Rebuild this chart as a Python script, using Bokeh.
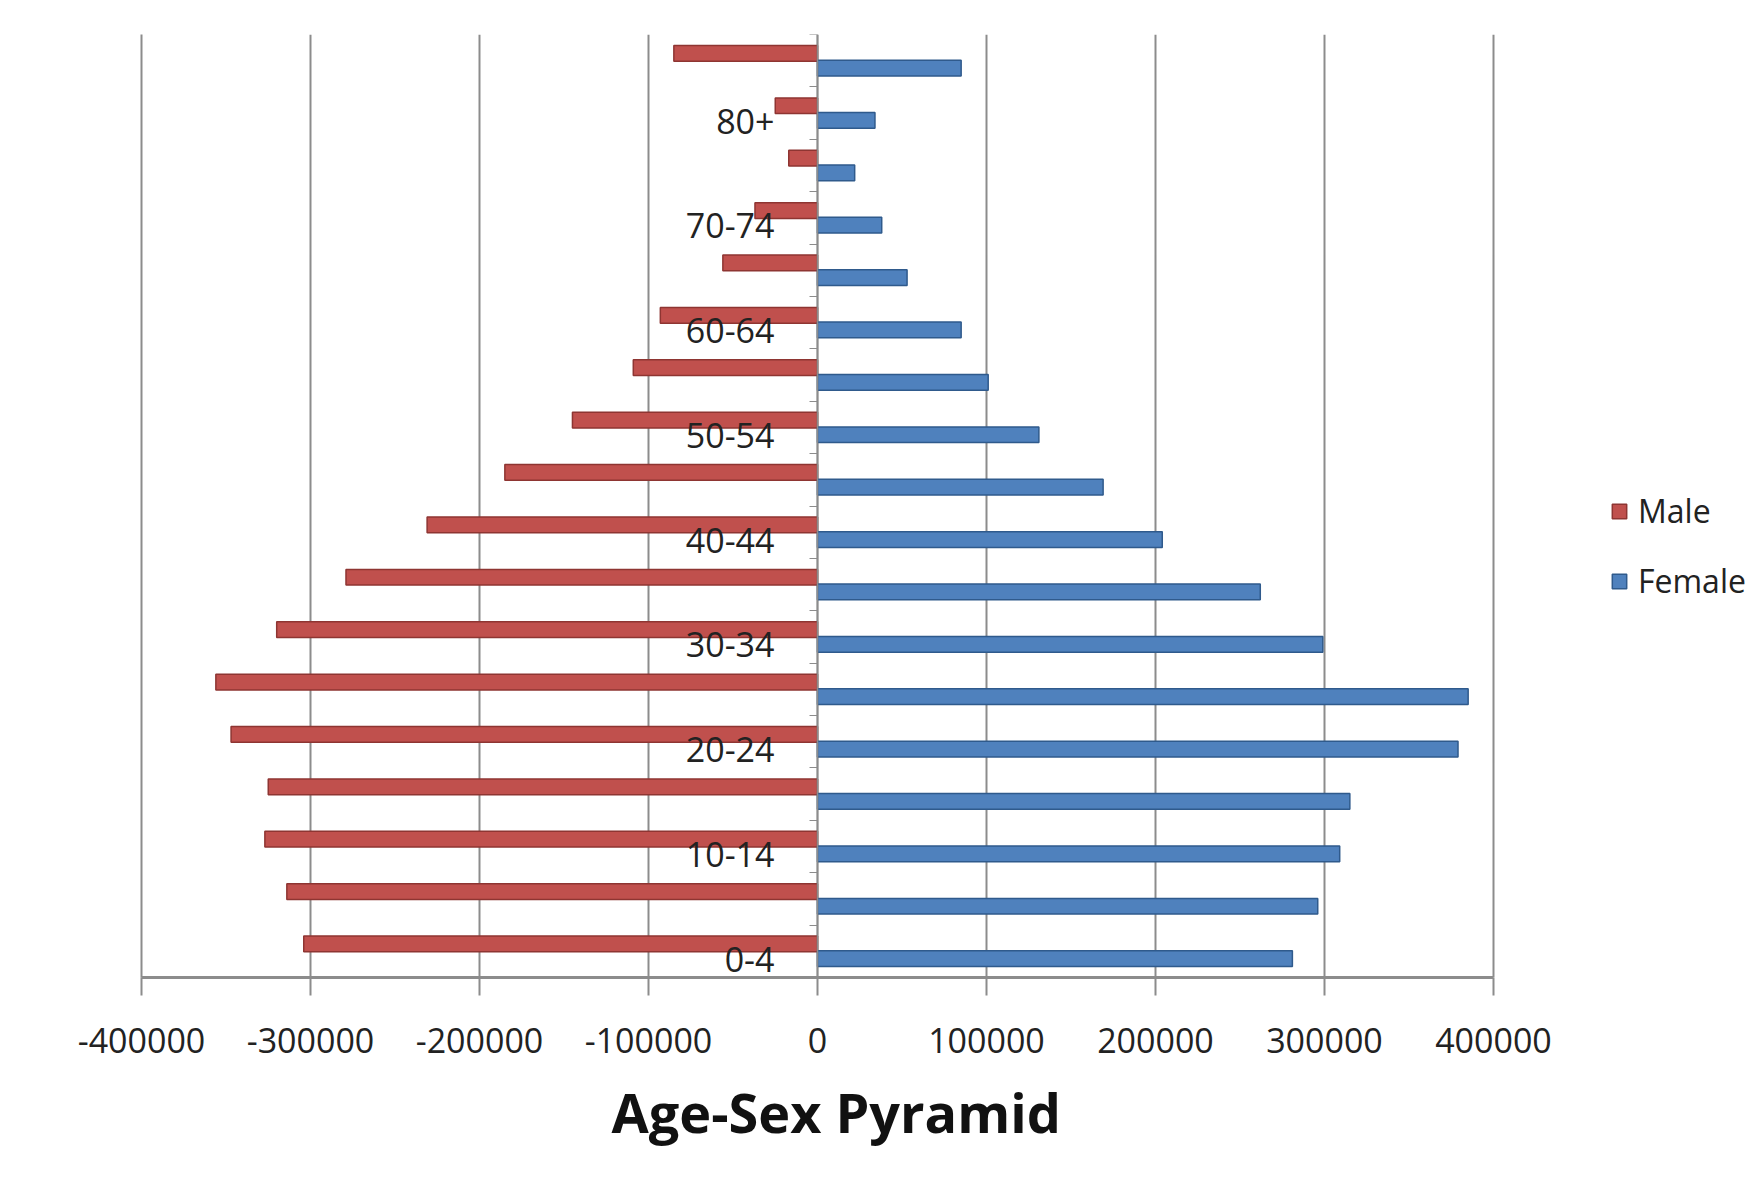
from bokeh.plotting import figure
from bokeh.models import (ColumnDataSource, FixedTicker, LinearAxis, Legend, LegendItem,
                          Title, Range1d, CustomJSTickFormatter)
from bokeh.core.properties import value
from bokeh.embed import file_html
from bokeh.resources import INLINE

# ---- data ----
age_groups = ["0-4", "5-9", "10-14", "15-19", "20-24", "25-29", "30-34", "35-39",
              "40-44", "45-49", "50-54", "55-59", "60-64", "65-69", "70-74", "75-79",
              "80+", "Not stated"]
male = [304000, 314000, 327000, 325000, 347000, 356000, 320000, 279000,
        231000, 185000, 145000, 109000, 93000, 56000, 37000, 17000,
        25000, 85000]
female = [281000, 296000, 309000, 315000, 379000, 385000, 299000, 262000,
          204000, 169000, 131000, 101000, 85000, 53000, 38000, 22000,
          34000, 85000]
x_ticks = [-400000, -300000, -200000, -100000, 0, 100000, 200000, 300000, 400000]
x_tick_labels = ["-400000", "-300000", "-200000", "-100000", "0",
                 "100000", "200000", "300000", "400000"]
shown_labels = ["0-4", "10-14", "20-24", "30-34", "40-44", "50-54", "60-64", "70-74", "80+"]

FONT = "Open Sans"
GRID = "#8c8c8c"

# layout: axis span -400000..400000 is 1352 px wide; frame continues to canvas edge
W, H = 1748, 1165
LEFT, TOP, BOTTOM = 141, 34, 188
AXIS_PX = 1352
x_lo, x_hi_axis = -400000, 400000
frame_w = W - LEFT
x_hi = x_lo + (x_hi_axis - x_lo) * frame_w / AXIS_PX

idx = list(range(len(age_groups)))
src = ColumnDataSource(dict(
    y_m=[i + 0.14 for i in idx],
    y_f=[i - 0.14 for i in idx],
    male_neg=[-v for v in male],
    female=female,
    zero=[0] * len(idx),
))

lab_idx = [age_groups.index(a) for a in shown_labels]
lab_src = ColumnDataSource(dict(y=lab_idx, x=[0] * len(lab_idx), text=shown_labels))

p = figure(width=W, height=H, output_backend="svg", toolbar_location=None,
           x_range=Range1d(x_lo, x_hi), y_range=Range1d(-0.5, len(idx) - 0.5),
           y_axis_location=None, x_axis_location=None,
           min_border_left=LEFT, min_border_right=0, min_border_top=TOP,
           min_border_bottom=BOTTOM)
p.outline_line_color = None
p.background_fill_color = "white"
p.border_fill_color = "white"

# bars
rm = p.hbar(y="y_m", left="male_neg", right="zero", height=0.3, source=src,
            fill_color="#C0504D", line_color="#8E3532", line_width=1.5)
rf = p.hbar(y="y_f", left="zero", right="female", height=0.3, source=src,
            fill_color="#4F81BD", line_color="#2F5A8C", line_width=1.5)

# x axis
xa = LinearAxis(ticker=FixedTicker(ticks=x_ticks), bounds=(x_lo, x_hi_axis))
xa.major_label_overrides = {t: l for t, l in zip(x_ticks, x_tick_labels)}
xa.axis_line_color = GRID
xa.axis_line_width = 3
xa.major_tick_line_color = GRID
xa.major_tick_line_width = 2
xa.major_tick_out = 18
xa.major_tick_in = 0
xa.minor_tick_line_color = None
xa.major_label_text_font = FONT
xa.major_label_text_font_size = "34px"
xa.major_label_text_color = "#222222"
xa.major_label_standoff = 32
p.add_layout(xa, "below")

# left wall
wall = LinearAxis(ticker=FixedTicker(ticks=[]))
wall.axis_line_color = GRID
wall.axis_line_width = 2
wall.major_tick_line_color = None
wall.minor_tick_line_color = None
p.add_layout(wall, "left")

# category axis at zero (small boundary ticks, no labels)
cat_axis = LinearAxis(fixed_location=0,
                      ticker=FixedTicker(ticks=[i + 0.5 for i in idx]),
                      formatter=CustomJSTickFormatter(code="return '';"))
cat_axis.axis_line_color = GRID
cat_axis.axis_line_width = 1.5
cat_axis.major_tick_out = 8
cat_axis.major_tick_in = 0
cat_axis.major_tick_line_color = GRID
cat_axis.minor_tick_line_color = None
p.add_layout(cat_axis, "left")

# grid
p.xgrid.ticker = FixedTicker(ticks=x_ticks)
p.xgrid.grid_line_color = GRID
p.xgrid.grid_line_width = 2
p.ygrid.grid_line_color = None

# category labels next to the zero line
p.text(x="x", y="y", text="text", source=lab_src, text_align="right",
       text_baseline="middle", x_offset=-43, y_offset=8,
       text_font=value(FONT), text_font_size="34px", text_color="#222222")

# legend (inside the extended frame, right of the axis span)
legend = Legend(items=[LegendItem(label="Male", renderers=[rm]),
                       LegendItem(label="Female", renderers=[rf])],
                location=(1469, 375), orientation="vertical",
                padding=0, margin=0, spacing=27,
                glyph_width=18, glyph_height=18, label_standoff=10,
                label_text_font=FONT, label_text_font_size="32px",
                label_text_color="#222222",
                border_line_color=None, background_fill_alpha=0)
p.add_layout(legend, "center")

# title below
t = Title(text="Age-Sex Pyramid", align="left", offset=470, standoff=34,
          vertical_align="bottom",
          text_font=FONT, text_font_size="54px", text_font_style="bold",
          text_color="#111111")
p.add_layout(t, "below")

open("out.html", "w").write(file_html(p, INLINE))
